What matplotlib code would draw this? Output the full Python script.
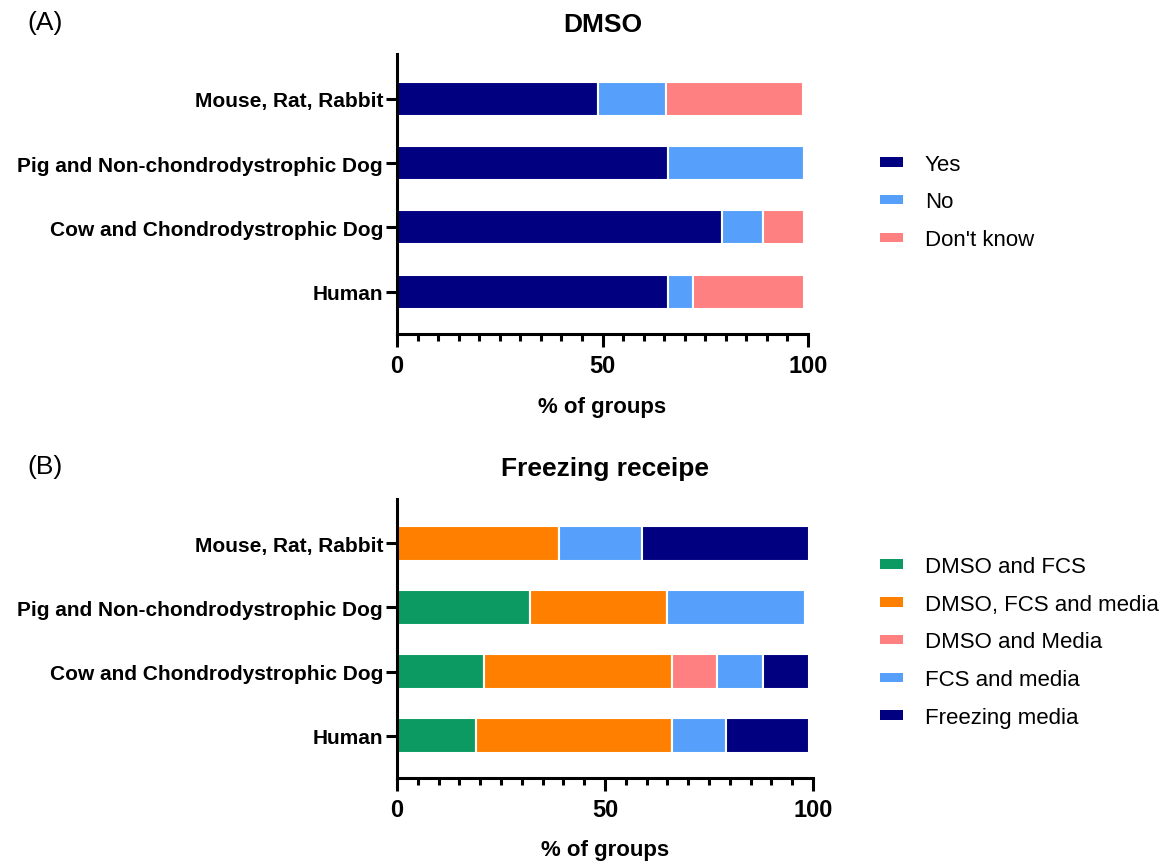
import numpy as np
import matplotlib
matplotlib.use("Agg")
import matplotlib.pyplot as plt
from matplotlib.patches import Patch
from matplotlib.ticker import MultipleLocator

plt.rcParams["font.family"] = ["Liberation Sans", "DejaVu Sans"]

# ---- data ----
categories = [
    "Mouse, Rat, Rabbit",
    "Pig and Non-chondrodystrophic Dog",
    "Cow and Chondrodystrophic Dog",
    "Human",
]

# (A) DMSO
dmso_labels = ["Yes", "No", "Don't know"]
dmso_yes = [49, 66, 79, 66]
dmso_no = [16.5, 33, 10, 6]
dmso_dont_know = [33.4, 0, 10, 27]

# (B) Freezing receipe
recipe_labels = ["DMSO and FCS", "DMSO, FCS and media", "DMSO and Media",
                 "FCS and media", "Freezing media"]
dmso_fcs = [0, 32, 21, 19]
dmso_fcs_media = [39, 33, 45, 47]
dmso_media = [0, 0, 11, 0]
fcs_media = [20, 33, 11, 13]
freezing_media = [40, 0, 11, 20]

NAVY = "#000080"
BLUE = "#56A0FB"
PINK = "#FF8080"
GREEN = "#0C9A62"
ORANGE = "#FF8000"


def stacked(ax, series, colors, bar_h):
    y = np.arange(len(categories))
    left = np.zeros(len(categories))
    for vals, col in zip(series, colors):
        vals = np.asarray(vals, dtype=float)
        ax.barh(y, vals, left=left, height=bar_h, color=col,
                edgecolor="white", linewidth=1.5)
        left += vals
    ax.set_yticks(y)
    ax.set_yticklabels(categories, fontsize=15, fontweight="bold")
    ax.set_ylim(len(categories) - 1 + 0.66, -0.69)


def style(ax, title):
    ax.set_xlim(0, 100)
    ax.xaxis.set_major_locator(MultipleLocator(50))
    ax.xaxis.set_minor_locator(MultipleLocator(5))
    for s in ["top", "right"]:
        ax.spines[s].set_visible(False)
    for s in ["left", "bottom"]:
        ax.spines[s].set_linewidth(2.2)
    ax.tick_params(axis="x", which="major", length=9.5, width=2.2,
                   labelsize=17, pad=5)
    ax.tick_params(axis="x", which="minor", length=5, width=2.2)
    ax.tick_params(axis="y", length=8, width=2.2, pad=2)
    for t in ax.get_xticklabels():
        t.set_fontweight("bold")
    ax.set_xlabel("% of groups", fontsize=16, fontweight="bold", labelpad=13)
    ax.set_title(title, fontsize=19, fontweight="bold", pad=17)


fig = plt.figure(figsize=(11.69, 8.62), dpi=100)

ax1 = fig.add_axes([0.3396, 0.611, 0.3516, 0.325])
stacked(ax1, [dmso_yes, dmso_no, dmso_dont_know], [NAVY, BLUE, PINK], 0.53)
style(ax1, "DMSO")

ax2 = fig.add_axes([0.3396, 0.0963, 0.3559, 0.3237])
stacked(ax2, [dmso_fcs, dmso_fcs_media, dmso_media, fcs_media, freezing_media],
        [GREEN, ORANGE, PINK, BLUE, NAVY], 0.545)
style(ax2, "Freezing receipe")

leg_kw = dict(frameon=False, fontsize=16, handlelength=1.0, handleheight=0.3,
              handletextpad=1.0, labelspacing=0.76, loc="center left")

h1 = [Patch(facecolor=c) for c in [NAVY, BLUE, PINK]]
fig.legend(h1, dmso_labels, bbox_to_anchor=(0.736, 1 - 203 / 862), **leg_kw)

h2 = [Patch(facecolor=c) for c in [GREEN, ORANGE, PINK, BLUE, NAVY]]
fig.legend(h2, recipe_labels, bbox_to_anchor=(0.736, 1 - 643 / 862), **leg_kw)

fig.text(0.023, 1 - 23 / 862, "(A)", fontsize=19, va="center")
fig.text(0.023, 1 - 467 / 862, "(B)", fontsize=19, va="center")

fig.savefig("out.png", dpi=100)
